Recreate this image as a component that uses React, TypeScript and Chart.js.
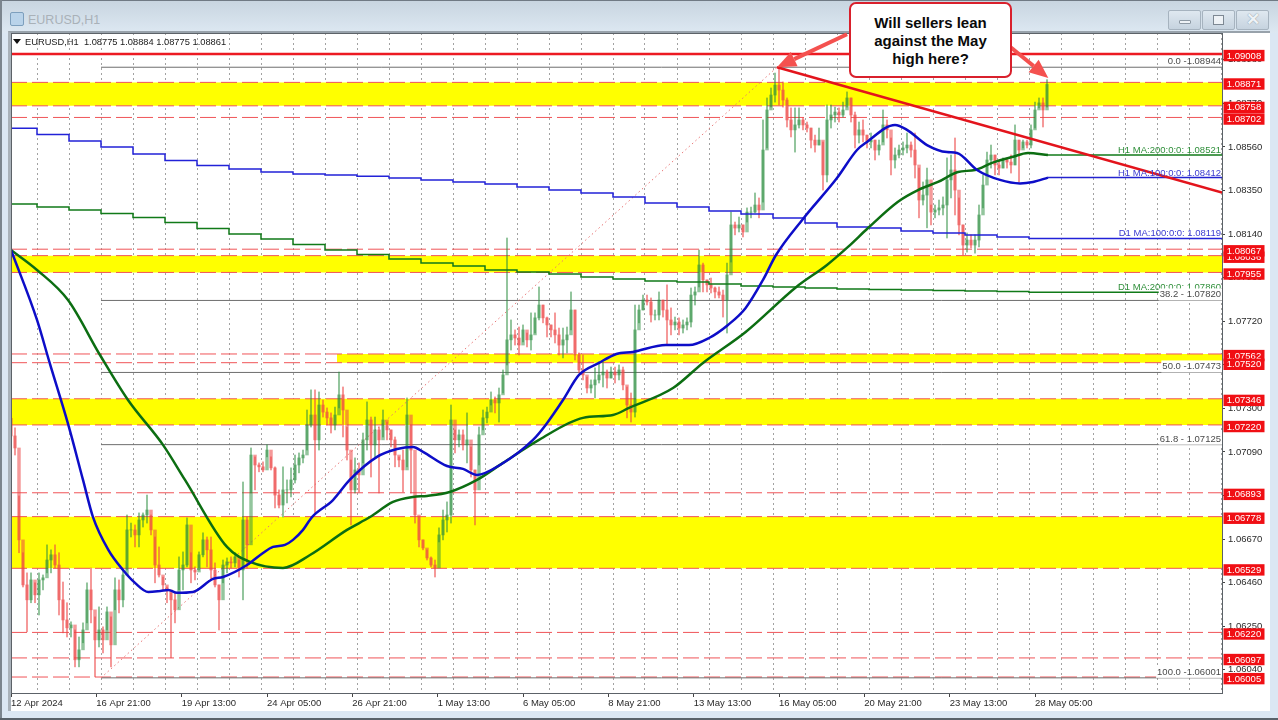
import React, { useEffect, useRef } from "react";
import { Chart, registerables } from "chart.js";

Chart.register(...registerables);

const FONT = '"Liberation Sans", Arial, sans-serif';
const BARS_PER_COLUMN = 3;
const X_MAX = 908.25;
const Y_MIN = 1.05928;
const Y_MAX = 1.09109;

const highs = [
  1.07254,1.07206,1.06878,1.06604,1.06507,1.06507,1.06459,1.06507,1.06497,1.06642,
  1.06618,1.06642,1.06604,1.06463,1.06363,1.06271,1.06232,1.06198,1.06266,1.06459,
  1.06531,1.06295,1.06343,1.06247,1.06343,1.06295,1.06483,1.06473,1.06521,1.06786,
  1.06747,1.06738,1.06796,1.06796,1.06882,1.06786,1.0668,1.06632,1.06487,1.06439,
  1.06411,1.06411,1.06584,1.06608,1.06772,1.06604,1.06536,1.06608,1.067,1.0668,
  1.0668,1.06555,1.06449,1.06569,1.06579,1.06584,1.06604,1.06569,1.06945,1.06776,
  1.07109,1.07066,1.07037,1.07042,1.07124,1.07066,1.07018,1.06907,1.07018,1.06955,
  1.07013,1.07075,1.07085,1.07099,1.07292,1.07389,1.07389,1.07379,1.0734,1.07302,
  1.07278,1.07306,1.07475,1.07403,1.0721,1.07051,1.07061,1.07037,1.07181,1.07331,
  1.07258,1.07258,1.0721,1.07292,1.07234,1.07196,1.07162,1.07066,1.07099,1.0735,
  1.0722,1.06873,1.06776,1.06666,1.06618,1.06584,1.06569,1.06724,1.0681,1.06849,
  1.07316,1.07196,1.07196,1.07196,1.07278,1.07114,1.07003,1.0721,1.07292,1.07306,
  1.07379,1.07355,1.07398,1.07485,1.08121,1.07726,1.07678,1.07692,1.07702,1.07663,
  1.0776,1.0776,1.07885,1.07798,1.0774,1.07702,1.0776,1.07687,1.07687,1.07692,
  1.07861,1.07774,1.07567,1.07557,1.07451,1.07437,1.07495,1.07524,1.07524,1.07485,
  1.07499,1.07499,1.07509,1.07499,1.07403,1.07374,1.07798,1.07798,1.07846,1.07846,
  1.07832,1.07774,1.07861,1.07822,1.07895,1.07784,1.0774,1.07736,1.07726,1.07736,
  1.0788,1.07885,1.08063,1.08,1.07919,1.07928,1.07885,1.07885,1.0787,1.08,
  1.08246,1.08198,1.08222,1.08184,1.08266,1.0827,1.08338,1.08314,1.0869,1.08796,
  1.08844,1.08916,1.0894,1.08873,1.08796,1.08748,1.08748,1.08748,1.087,1.0868,
  1.08651,1.08617,1.08651,1.08584,1.08762,1.08762,1.08752,1.08748,1.08776,1.08825,
  1.08796,1.08728,1.0868,1.0869,1.08617,1.08627,1.08593,1.08593,1.08738,1.0869,
  1.08603,1.08555,1.08569,1.08584,1.08627,1.08584,1.08627,1.08458,1.08391,1.08458,
  1.0828,1.0828,1.08304,1.08319,1.08507,1.08521,1.08603,1.08314,1.08184,1.08145,
  1.08136,1.08136,1.0828,1.08425,1.08535,1.08569,1.08521,1.08497,1.08507,1.08507,
  1.08521,1.08666,1.08593,1.08593,1.08593,1.08666,1.08776,1.08796,1.08796,1.08884,
];

const lows = [
  1.07158,1.07075,1.06604,1.06439,1.06223,1.06363,1.06363,1.06304,1.06425,1.06507,
  1.06507,1.06531,1.06304,1.06218,1.06198,1.06198,1.06054,1.06054,1.0617,1.06266,
  1.06266,1.06006,1.0615,1.06121,1.06232,1.06054,1.06329,1.06314,1.06343,1.06521,
  1.0668,1.06632,1.06632,1.06728,1.06747,1.0669,1.06459,1.06487,1.06425,1.06363,
  1.06098,1.06266,1.06425,1.06425,1.06536,1.06459,1.06473,1.06521,1.06584,1.06536,
  1.06473,1.06439,1.06232,1.06459,1.06507,1.06531,1.06536,1.06487,1.06377,1.06531,
  1.06892,1.06907,1.06994,1.06994,1.07066,1.07003,1.0682,1.0682,1.06776,1.06844,
  1.06873,1.0694,1.06989,1.07037,1.07099,1.0721,1.06796,1.07099,1.07258,1.0722,
  1.07181,1.07196,1.07302,1.07162,1.07051,1.06738,1.06892,1.06897,1.07037,1.07099,
  1.06969,1.07066,1.06892,1.07162,1.07148,1.07114,1.07018,1.07018,1.06897,1.07018,
  1.06892,1.06747,1.06632,1.06618,1.06569,1.06536,1.06487,1.06656,1.06666,1.06704,
  1.06747,1.07085,1.07114,1.07099,1.07037,1.06969,1.06738,1.07027,1.07196,1.0723,
  1.07316,1.07278,1.07234,1.07374,1.07509,1.07581,1.07605,1.07557,1.0762,1.07596,
  1.07581,1.07663,1.07726,1.07712,1.07644,1.07644,1.07615,1.07557,1.07543,1.07567,
  1.07678,1.07533,1.07471,1.07437,1.07374,1.07374,1.0735,1.07422,1.07403,1.07398,
  1.07446,1.07422,1.07437,1.07389,1.07254,1.07234,1.07258,1.07712,1.07774,1.07798,
  1.07716,1.07726,1.07726,1.0774,1.07605,1.07654,1.07678,1.07654,1.07663,1.07678,
  1.07692,1.07798,1.07885,1.07861,1.07861,1.07856,1.07832,1.07832,1.0774,1.07663,
  1.08005,1.08136,1.0815,1.08126,1.08198,1.08218,1.08242,1.08218,1.08294,1.08555,
  1.08752,1.08776,1.08762,1.08752,1.08656,1.08608,1.08535,1.08651,1.08642,1.08632,
  1.08555,1.08535,1.08569,1.08352,1.08391,1.08651,1.0868,1.0868,1.08704,1.08752,
  1.0868,1.08555,1.08579,1.08584,1.08555,1.08555,1.08497,1.08521,1.08584,1.08603,
  1.08425,1.08458,1.08507,1.08521,1.08531,1.08511,1.0841,1.08218,1.0828,1.0817,
  1.08184,1.08218,1.08232,1.08232,1.08121,1.08314,1.08232,1.08136,1.08039,1.08053,
  1.08073,1.08048,1.08078,1.08266,1.08425,1.08458,1.08425,1.08425,1.08458,1.08458,
  1.08434,1.08473,1.08391,1.08555,1.08555,1.08555,1.08651,1.08748,1.08656,1.08752,
];

const closes = [
  1.07167,1.07109,1.06666,1.06449,1.06377,1.06473,1.06401,1.06473,1.06483,1.06569,
  1.06594,1.06545,1.06377,1.0628,1.06242,1.06256,1.06088,1.06136,1.06232,1.06425,
  1.06329,1.06184,1.06232,1.06184,1.06319,1.0616,1.06425,1.06377,1.06497,1.06714,
  1.06714,1.0669,1.06762,1.06786,1.0681,1.06714,1.06545,1.06497,1.06449,1.06425,
  1.06377,1.06329,1.06521,1.06545,1.06738,1.06521,1.06511,1.06594,1.06666,1.06618,
  1.06521,1.06449,1.06377,1.06545,1.0656,1.06555,1.06584,1.06521,1.06762,1.06642,
  1.07075,1.07027,1.07018,1.07003,1.07099,1.07013,1.06882,1.06834,1.06907,1.06907,
  1.06955,1.07027,1.07061,1.07075,1.0722,1.07268,1.07148,1.07316,1.07282,1.07254,
  1.0722,1.07268,1.07365,1.07292,1.07099,1.06907,1.07003,1.06979,1.07148,1.07244,
  1.07124,1.07196,1.07148,1.07244,1.07196,1.07148,1.07075,1.07051,1.07003,1.07268,
  1.07099,1.06786,1.06666,1.06627,1.06579,1.06545,1.06531,1.0669,1.06762,1.06786,
  1.07244,1.07148,1.07172,1.07124,1.07148,1.07003,1.06907,1.07172,1.07254,1.07282,
  1.0734,1.07326,1.07365,1.07461,1.0763,1.07654,1.07639,1.07605,1.07678,1.0763,
  1.07654,1.07736,1.07798,1.07736,1.07702,1.07678,1.07654,1.07605,1.0763,1.07654,
  1.07774,1.07557,1.07485,1.07461,1.07398,1.07413,1.07437,1.07461,1.07475,1.07446,
  1.07475,1.07461,1.07485,1.07413,1.07316,1.07282,1.07678,1.07774,1.07822,1.07813,
  1.0775,1.0775,1.07822,1.07774,1.07726,1.07702,1.07716,1.07687,1.07702,1.07716,
  1.07846,1.07861,1.07991,1.07919,1.07895,1.0788,1.07861,1.07846,1.07822,1.07943,
  1.08184,1.08169,1.08184,1.0815,1.08246,1.08246,1.0828,1.08256,1.08545,1.08738,
  1.0881,1.08858,1.08834,1.08786,1.0869,1.08642,1.08666,1.0869,1.08666,1.08651,
  1.08593,1.08569,1.08593,1.08425,1.0869,1.08714,1.08728,1.08714,1.08738,1.08796,
  1.08714,1.08617,1.08642,1.08617,1.08584,1.08593,1.08545,1.08569,1.08666,1.08642,
  1.08497,1.08521,1.08545,1.08555,1.08569,1.08545,1.08473,1.08304,1.08328,1.08401,
  1.08246,1.08256,1.08266,1.0828,1.08401,1.08449,1.08352,1.08184,1.08087,1.08111,
  1.08087,1.08111,1.08232,1.08376,1.08497,1.08521,1.08473,1.08458,1.08497,1.08487,
  1.08473,1.08593,1.08545,1.08584,1.08569,1.08642,1.08738,1.08772,1.08738,1.08861,
];

const h1Ma100Bars = [0,19.5,29,43,54,61.5,73,84,93,103,112,118,124.5,136.5,151.5,159,177,189,196.5,205.5,211.5,219,225.75,241.5,254,274.5,289.5,301.5,309,327,339,349.5,366.75,391.5,401,414,426,441,454,466.5,491,508.5,523.5,537.75,551,564,573.75,594,619.5,634.5,642,663,672,687,702,709.5,724.5,741.75,756.75,766.5,777.75];
const h1Ma100 = [1.08063,1.07726,1.07519,1.0722,1.06955,1.06776,1.06618,1.06521,1.06459,1.06415,1.0642,1.06425,1.06411,1.06415,1.06478,1.06487,1.06545,1.06603,1.06632,1.06642,1.06666,1.06714,1.06776,1.06858,1.06955,1.07066,1.07104,1.07114,1.0709,1.07022,1.07008,1.06979,1.07027,1.07148,1.0722,1.0734,1.07461,1.07519,1.07562,1.07572,1.07605,1.07605,1.07639,1.07702,1.07784,1.07919,1.08039,1.08213,1.0841,1.08545,1.08584,1.08666,1.08642,1.08569,1.08535,1.08531,1.08449,1.08401,1.08384,1.08391,1.08412];

const h1Ma200Bars = [0,19.5,42.75,66.75,87.75,114,130.5,162,179.25,204,224.25,252,269.25,286.5,301.5,312,329,349.5,369,396,429,451.5,463.5,496.5,519,551,589,612,627.75,642.75,665,680.25,695.25,710.25,723,735.75,750.75,762.75,777.75];
const h1Ma200 = [1.08063,1.07967,1.07822,1.07557,1.0734,1.07124,1.06955,1.06632,1.0656,1.06531,1.06593,1.06714,1.06776,1.06849,1.06873,1.06878,1.06897,1.06955,1.07037,1.07148,1.07254,1.07268,1.07302,1.07398,1.07519,1.07668,1.07885,1.07991,1.08078,1.08169,1.08295,1.08352,1.08391,1.08439,1.08449,1.08483,1.08511,1.08531,1.08521];

const d1Ma100 = [1.0865,1.0862,1.08589,1.0856,1.08526,1.08495,1.0847,1.08454,1.08439,1.0843,1.08425,1.08418,1.0841,1.08401,1.08391,1.08381,1.08367,1.08352,1.08338,1.08319,1.0829,1.0827,1.08251,1.08237,1.08217,1.08193,1.08174,1.08169,1.08155,1.08145,1.08136,1.08126,1.08119];
const d1Ma200 = [1.08285,1.0827,1.08256,1.08239,1.0822,1.08196,1.08167,1.0814,1.08116,1.0809,1.08063,1.08042,1.0802,1.08,1.07986,1.07967,1.07957,1.07948,1.07933,1.07923,1.07914,1.07909,1.07899,1.0789,1.07885,1.0788,1.07875,1.07873,1.0787,1.07868,1.07866,1.07863,1.0786];

const zoneHighs = [1.08871,1.08036,1.07562,1.07346,1.06778];
const zoneLows = [1.08758,1.07955,1.0752,1.0722,1.06529];
const zoneStarts = [0,0,244.5,0,0];
const dashedLevels = [1.08871,1.08758,1.08702,1.08067,1.08036,1.07955,1.07562,1.0752,1.07346,1.0722,1.06893,1.06778,1.06529,1.0622,1.06097,1.06005];
const resistance = 1.09008;

const fibBar = 67.5;
const fibPeakBar = 574.5;
const fibRatios = ["0.0 -", "38.2 -", "50.0 -", "61.8 -", "100.0 -"];
const fibLevels = [1.08944,1.0782,1.07473,1.07125,1.06001];
const trendBars = [574.5, X_MAX];
const trendValues = [1.08944, 1.0834];

const tagValues = [1.09008,1.08871,1.08758,1.08702,1.08036,1.08067,1.07955,1.07562,1.0752,1.07346,1.0722,1.06893,1.06778,1.06529,1.0622,1.06097,1.06005];
const yTicks = [1.0898,1.0877,1.0856,1.0835,1.0814,1.0793,1.0772,1.0751,1.073,1.0709,1.0688,1.0667,1.0646,1.0625,1.0604];
const xLabels = ["12 Apr 2024","16 Apr 21:00","19 Apr 13:00","24 Apr 05:00","26 Apr 21:00","1 May 13:00","6 May 05:00","8 May 21:00","13 May 13:00","16 May 05:00","20 May 21:00","23 May 13:00","28 May 05:00"];
const LABEL_EVERY = 64;
const GRID_FIRST = 19.5;
const GRID_EVERY = 24;
const GRID_COUNT = 38;
const maLabels = [
  { text: "H1 MA:200:0:0: 1.08521", value: 1.08521, color: "#2f8f3a" },
  { text: "H1 MA:100:0:0: 1.08412", value: 1.08412, color: "#3a3ad0" },
  { text: "D1 MA:100:0:0: 1.08119", value: 1.08119, color: "#3a3ad0" },
  { text: "D1 MA:200:0:0: 1.07860", value: 1.0786, color: "#2f8f3a" },
];
const arrowTips = [
  { bar: 574.5, value: 1.08944, fromDx: 70, fromDy: -33 },
  { bar: 778, value: 1.08892, fromDx: -38, fromDy: -31 },
];

const gridBars = Array.from({ length: GRID_COUNT }, (_, k) => GRID_FIRST + GRID_EVERY * k);
const labelBars = xLabels.map((_, k) => k * LABEL_EVERY);
const dayBars = [0, ...gridBars];

const lineBase = { type: "line", pointRadius: 0, pointHoverRadius: 0, fill: false, tension: 0 };

function segment(x0: number, x1: number, y0: number, y1: number) {
  return [{ x: x0, y: y0 }, { x: x1, y: y1 }];
}

function stepData(values: number[]) {
  const pts = values.map((y, i) => ({ x: dayBars[i], y }));
  pts.push({ x: X_MAX, y: values[values.length - 1] });
  return pts;
}

const overlayPlugin = {
  id: "overlay",
  afterDatasetsDraw(chart: any) {
    const { ctx, scales, chartArea } = chart;
    const y = scales.y;
    const right = chartArea.right - 1;
    ctx.save();
    ctx.font = `9.5px ${FONT}`;
    ctx.textAlign = "right";
    ctx.textBaseline = "alphabetic";
    maLabels.forEach((m) => {
      ctx.fillStyle = m.color;
      ctx.fillText(m.text, right, y.getPixelForValue(m.value) - 2);
    });
    fibLevels.forEach((v, i) => {
      const text = `${fibRatios[i]} ${v.toFixed(5)}`.replace("0.0 - ", "0.0 -");
      const py = y.getPixelForValue(v);
      const w = ctx.measureText(text).width;
      ctx.fillStyle = "#ffffff";
      if (i > 0) ctx.fillRect(right - w - 1, py - 12, w + 2, 12);
      ctx.fillStyle = "#4a4a4a";
      ctx.fillText(text, right, py - 3);
    });
    ctx.strokeStyle = "#5c6268";
    ctx.lineWidth = 1;
    ctx.strokeRect(
      Math.round(chartArea.left) + 0.5,
      Math.round(chartArea.top) + 0.5,
      Math.round(chartArea.right - chartArea.left),
      Math.round(chartArea.bottom - chartArea.top),
    );
    ctx.restore();
  },
  afterDraw(chart: any) {
    const { ctx, scales, chartArea } = chart;
    const y = scales.y;
    const x = scales.x;
    ctx.save();
    ctx.font = `9.5px ${FONT}`;
    ctx.textAlign = "center";
    ctx.textBaseline = "middle";
    tagValues.forEach((v) => {
      const py = y.getPixelForValue(v) + 1.6;
      ctx.fillStyle = "#f00f14";
      ctx.fillRect(chartArea.right + 1.5, py - 5.7, 41, 11.4);
      ctx.fillStyle = "#ffffff";
      ctx.fillText(v.toFixed(5), chartArea.right + 22, py + 0.4);
    });
    ctx.strokeStyle = "#f4514f";
    ctx.fillStyle = "#f4514f";
    ctx.lineWidth = 4;
    arrowTips.forEach((a) => {
      const tx = x.getPixelForValue(a.bar);
      const ty = y.getPixelForValue(a.value);
      const sx = tx + a.fromDx;
      const sy = ty + a.fromDy;
      const ang = Math.atan2(ty - sy, tx - sx);
      const hl = 19;
      const hw = 8;
      const bx = tx - hl * Math.cos(ang);
      const by = ty - hl * Math.sin(ang);
      ctx.beginPath();
      ctx.moveTo(sx, sy);
      ctx.lineTo(bx, by);
      ctx.stroke();
      ctx.beginPath();
      ctx.moveTo(tx, ty);
      ctx.lineTo(bx - hw * Math.sin(ang), by + hw * Math.cos(ang));
      ctx.lineTo(bx + hw * Math.sin(ang), by - hw * Math.cos(ang));
      ctx.closePath();
      ctx.fill();
    });
    ctx.restore();
  },
};

function buildConfig() {
  const opens = closes.map((_, i) => (i === 0 ? highs[0] - 0.00002 : closes[i - 1]));
  const up = "rgba(40,140,60,0.5)";
  const down = "rgba(236,70,70,0.55)";
  const colors = closes.map((c, i) => (c >= opens[i] ? up : down));

  const datasets: any[] = [];
  zoneHighs.forEach((hi, i) => {
    datasets.push({
      ...lineBase,
      data: segment(zoneStarts[i], X_MAX, hi, hi),
      borderWidth: 0,
      borderColor: "rgba(0,0,0,0)",
      backgroundColor: "#ffff00",
      fill: { value: zoneLows[i] },
      order: 30,
    });
  });
  dashedLevels.forEach((v) => {
    datasets.push({
      ...lineBase,
      data: segment(0, X_MAX, v, v),
      borderWidth: 1,
      borderColor: "#f05458",
      borderDash: [16, 5],
      order: 25,
    });
  });
  fibLevels.forEach((v) => {
    datasets.push({
      ...lineBase,
      data: segment(fibBar, X_MAX, v, v),
      borderWidth: 1,
      borderColor: "#6e6e6e",
      order: 24,
    });
  });
  datasets.push({
    ...lineBase,
    data: segment(fibBar, fibPeakBar, fibLevels[4], fibLevels[0]),
    borderWidth: 1,
    borderColor: "#e87474",
    borderDash: [1.5, 3],
    order: 23,
  });
  datasets.push({
    type: "bar",
    data: highs.map((h, i) => ({ x: i * BARS_PER_COLUMN, y: [lows[i], h] })),
    backgroundColor: colors,
    barThickness: 1.4,
    grouped: false,
    order: 20,
  });
  datasets.push({
    type: "bar",
    data: closes.map((c, i) => ({ x: i * BARS_PER_COLUMN, y: [Math.min(c, opens[i]), Math.max(c, opens[i])] })),
    backgroundColor: colors,
    barThickness: 2.8,
    grouped: false,
    order: 19,
  });
  datasets.push({ ...lineBase, data: stepData(d1Ma100), stepped: true, borderColor: "#2222d8", borderWidth: 1.5, order: 10 });
  datasets.push({ ...lineBase, data: stepData(d1Ma200), stepped: true, borderColor: "#107a18", borderWidth: 1.5, order: 10 });
  const lastBar = h1Ma100Bars[h1Ma100Bars.length - 1];
  datasets.push({ ...lineBase, data: segment(lastBar, X_MAX, 1.08412, 1.08412), borderColor: "#2222d0", borderWidth: 1.5, order: 9 });
  datasets.push({ ...lineBase, data: segment(lastBar, X_MAX, 1.08521, 1.08521), borderColor: "#107a18", borderWidth: 1.5, order: 9 });
  datasets.push({ ...lineBase, cubicInterpolationMode: "monotone", data: h1Ma200.map((y, i) => ({ x: h1Ma200Bars[i], y })), borderColor: "#0c6e12", borderWidth: 2.5, order: 8 });
  datasets.push({ ...lineBase, cubicInterpolationMode: "monotone", data: h1Ma100.map((y, i) => ({ x: h1Ma100Bars[i], y })), borderColor: "#0d0dc8", borderWidth: 2.5, order: 7 });
  datasets.push({
    ...lineBase,
    data: segment(trendBars[0], trendBars[1], trendValues[0], trendValues[1]),
    borderColor: "#e3141c",
    borderWidth: 2.5,
    order: 6,
  });
  datasets.push({
    ...lineBase,
    data: segment(0, X_MAX, resistance, resistance),
    borderColor: "#ec1a22",
    borderWidth: 2.6,
    order: 5,
  });

  const isLabelTick = (v: number) => labelBars.includes(v);
  return {
    type: "line",
    data: { datasets },
    plugins: [overlayPlugin],
    options: {
      animation: false,
      responsive: false,
      maintainAspectRatio: false,
      devicePixelRatio: 1,
      events: [],
      layout: { autoPadding: false, padding: { left: 11, top: 33, right: 0, bottom: 0 } },
      plugins: { legend: { display: false }, tooltip: { enabled: false }, title: { display: false } },
      scales: {
        x: {
          type: "linear",
          min: 0,
          max: X_MAX,
          offset: false,
          afterBuildTicks(scale: any) {
            scale.ticks = [...labelBars, ...gridBars].sort((a, b) => a - b).map((value) => ({ value }));
          },
          afterFit(scale: any) {
            scale.height = 27;
          },
          grid: {
            offset: false,
            lineWidth: 1,
            tickLength: 4,
            tickWidth: 1,
            tickBorderDash: [],
            color: (c: any) => (c.tick && isLabelTick(c.tick.value) ? "rgba(0,0,0,0)" : "#a2a2a2"),
            tickColor: (c: any) => (c.tick && isLabelTick(c.tick.value) ? "#444444" : "rgba(0,0,0,0)"),
          },
          border: { display: true, color: "#5c6268", dash: [2, 3] },
          ticks: {
            autoSkip: false,
            maxRotation: 0,
            minRotation: 0,
            align: "start",
            padding: 1,
            color: "#2a2a2a",
            font: { family: FONT, size: 9.5 },
            callback: (v: number) => {
              const k = labelBars.indexOf(v);
              return k >= 0 ? xLabels[k] : "";
            },
          },
        },
        y: {
          type: "linear",
          position: "right",
          min: Y_MIN,
          max: Y_MAX,
          afterBuildTicks(scale: any) {
            scale.ticks = yTicks.map((value) => ({ value }));
          },
          afterFit(scale: any) {
            scale.width = 56;
          },
          grid: { drawOnChartArea: false, tickLength: 3, tickColor: "#444444" },
          border: { display: true, color: "#5c6268" },
          ticks: {
            autoSkip: false,
            padding: 3,
            color: "#2a2a2a",
            font: { family: FONT, size: 9.5 },
            callback: (v: number) => v.toFixed(5),
          },
        },
      },
    },
  };
}

const abs = (left: number, top: number, width: number, height: number, extra: any = {}) => ({
  position: "absolute" as const,
  left,
  top,
  width,
  height,
  boxSizing: "border-box" as const,
  ...extra,
});

function WinButton({ left, children }: { left: number; children: React.ReactNode }) {
  return (
    <div style={abs(left, 10, 33, 20, { background: "linear-gradient(#dfe8f0,#c6d3df)", border: "1px solid #a6b3bf", borderRadius: 2 })}>
      {children}
    </div>
  );
}

export default function App() {
  const ref = useRef<HTMLCanvasElement | null>(null);
  useEffect(() => {
    if (!ref.current) return;
    const chart = new Chart(ref.current, buildConfig() as any);
    return () => chart.destroy();
  }, []);

  return (
    <div style={abs(0, 0, 1278, 720, { background: "#dbe7f3", overflow: "hidden", fontFamily: FONT })}>
      <div style={abs(0, 0, 1278, 33, { background: "linear-gradient(#c8d5e0,#dde8f2)", borderTop: "1px solid #707a84" })} />
      <div style={abs(0, 0, 2, 720, { background: "#7b858e" })} />
      <div style={abs(0, 718, 1278, 2, { background: "#59626a" })} />
      <div style={abs(8, 31, 1262, 680, { background: "#ffffff", borderTop: "2px solid #98a2ab", borderLeft: "3px solid #a9b2ba" })} />
      <div style={abs(10, 12, 14, 14, { background: "#b9d3ea", border: "1px solid #7d9fbd", borderRadius: 2 })} />
      <div style={abs(28, 13, 120, 15, { color: "#a9b1b8", fontSize: 12.5, lineHeight: "15px" })}>EURUSD,H1</div>
      <WinButton left={1168}>
        <div style={abs(10, 9, 12, 4, { background: "#eef2f6", border: "1px solid #8c98a3", borderRadius: 1 })} />
      </WinButton>
      <WinButton left={1202}>
        <div style={abs(10, 4, 11, 10, { background: "#eef2f6", border: "1px solid #7d8893" })} />
      </WinButton>
      <WinButton left={1236}>
        <div style={abs(7, -1, 18, 19, { color: "#eef2f6", fontSize: 17, fontWeight: 700, textAlign: "center", lineHeight: "19px", textShadow: "0 0 1px #6c7883" })}>✕</div>
      </WinButton>
      <canvas ref={ref} width={1278} height={720} style={{ position: "absolute", left: 0, top: 0, width: 1278, height: 720 }} />
      <div style={{ position: "absolute", left: 13, top: 39, width: 0, height: 0, borderLeft: "4px solid transparent", borderRight: "4px solid transparent", borderTop: "5px solid #111" }} />
      <div style={abs(25, 36, 260, 13, { color: "#1a1a1a", fontSize: 9.3, lineHeight: "13px", whiteSpace: "pre" })}>
        {"EURUSD,H1  1.08775 1.08884 1.08775 1.08861"}
      </div>
      <div
        style={abs(849, 2, 163, 76, {
          background: "#ffffff",
          border: "2.5px solid #d9202c",
          borderRadius: 7,
          color: "#0a0a0a",
          fontWeight: 700,
          fontSize: 15,
          lineHeight: "18px",
          textAlign: "center",
          paddingTop: 10,
        })}
      >
        <div>Will sellers lean</div>
        <div>against the May</div>
        <div>high here?</div>
      </div>
    </div>
  );
}
